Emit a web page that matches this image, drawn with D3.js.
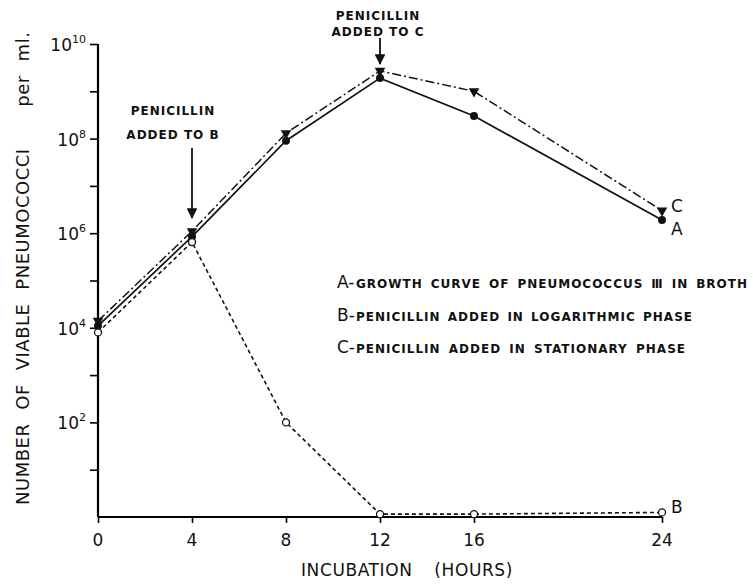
<!DOCTYPE html>
<html>
<head>
<meta charset="utf-8">
<script src="https://cdn.jsdelivr.net/npm/d3@7"></script>
<style>
  body { margin: 0; background: #fff; }
  text { font-family: "DejaVu Sans", sans-serif; fill: #111; }
</style>
</head>
<body>
<script>
var width = 753,
    height = 584;

// hours of incubation
var hours = [0, 4, 8, 12, 16, 24];
// viable pneumococci per ml
var curveA = [1.1e4, 8.5e5, 9e7, 1.9e9, 3e8, 1.9e6];
var curveB = [8e3, 6.5e5, 1e2, 1.15, 1.15, 1.25];
var curveC = [1.4e4, 1.1e6, 1.3e8, 2.7e9, 1e9, 3e6];
var xTicks = [0, 4, 8, 12, 16, 24];
var yMajor = [2, 4, 6, 8, 10];
var yMinor = [1, 3, 5, 7, 9];
var legendLines = [
  ["A", "GROWTH CURVE OF PNEUMOCOCCUS \u2162 IN BROTH", 411],
  ["B", "PENICILLIN ADDED IN LOGARITHMIC PHASE", 356],
  ["C", "PENICILLIN ADDED IN STATIONARY PHASE", 349]
];

var x = d3.scaleLinear().domain([0, 24]).range([98, 662]);
var y = d3.scaleLog().domain([1, 1e10]).range([517, 44]);

var svg = d3.select("body").append("svg")
    .attr("width", width)
    .attr("height", height);

// stretch the gaps between words so a label spans a given width
function fitWords(sel, target) {
  var node = sel.node();
  var n = (node.textContent.match(/ /g) || []).length;
  var w = node.getComputedTextLength();
  if (n > 0) sel.attr("word-spacing", ((target - w) / n) + "px");
}

// axes
var xAxis = d3.axisBottom(x).tickValues(xTicks).tickSize(6).tickFormat("");
svg.append("g")
    .attr("transform", "translate(0," + y(1) + ")")
    .call(xAxis)
    .call(function(g) {
      g.select(".domain").attr("stroke-width", 2.2).attr("d", "M" + x(0) + ",0H" + x(24));
      g.selectAll(".tick line").attr("stroke-width", 1.6);
    });

svg.append("g")
    .attr("transform", "translate(" + x(0) + ",0)")
    .call(d3.axisLeft(y).tickValues(yMajor.concat(yMinor).map(function(p) { return Math.pow(10, p); }))
      .tickSize(8).tickFormat(""))
    .call(function(g) {
      g.select(".domain").attr("stroke-width", 2.2).attr("d", "M0," + y(1) + "V" + y(1e10));
      g.selectAll(".tick line").attr("stroke-width", 1.6);
    });

// x tick labels
svg.selectAll(".xlab")
    .data(xTicks)
    .enter().append("text")
    .attr("x", function(d) { return x(d); })
    .attr("y", 546)
    .attr("text-anchor", "middle")
    .style("font-size", "17px")
    .text(function(d) { return d; });

// y tick labels as 10 with superscript
var ylab = svg.selectAll(".ylab")
    .data(yMajor)
    .enter().append("text")
    .attr("x", 86)
    .attr("y", function(d) { return y(Math.pow(10, d)) + 7; })
    .attr("text-anchor", "end")
    .style("font-size", "17px");
ylab.append("tspan").text("10");
ylab.append("tspan")
    .attr("dy", -8)
    .style("font-size", "11px")
    .text(function(d) { return d; });

// axis titles
var xt = svg.append("text")
    .attr("x", 301)
    .attr("y", 576)
    .style("font-size", "17px")
    .attr("letter-spacing", "0.6px")
    .text("INCUBATION (HOURS)");
fitWords(xt, 212);

var yt = svg.append("text")
    .attr("transform", "translate(29,505) rotate(-90)")
    .style("font-size", "18px")
    .attr("letter-spacing", "0.5px")
    .text("NUMBER OF VIABLE PNEUMOCOCCI \u00a0\u00a0per ml.");
fitWords(yt, 458);

// curves
var line = d3.line()
    .x(function(d) { return x(d[0]); })
    .y(function(d) { return y(d[1]); });

function pairs(vals) {
  return hours.map(function(h, i) { return [h, vals[i]]; });
}

svg.append("path")
    .datum(pairs(curveB))
    .attr("d", line)
    .attr("fill", "none")
    .attr("stroke", "#111")
    .attr("stroke-width", 1.6)
    .attr("stroke-dasharray", "4,3");

svg.append("path")
    .datum(pairs(curveC))
    .attr("d", line)
    .attr("fill", "none")
    .attr("stroke", "#111")
    .attr("stroke-width", 1.5)
    .attr("stroke-dasharray", "9,3,2,3");

svg.append("path")
    .datum(pairs(curveA))
    .attr("d", line)
    .attr("fill", "none")
    .attr("stroke", "#111")
    .attr("stroke-width", 1.7);

// markers
svg.selectAll(".ptA")
    .data(pairs(curveA))
    .enter().append("circle")
    .attr("cx", function(d) { return x(d[0]); })
    .attr("cy", function(d) { return y(d[1]); })
    .attr("r", 4)
    .attr("fill", "#111");

var tri = d3.symbol().type(d3.symbolTriangle).size(48);
svg.selectAll(".ptC")
    .data(pairs(curveC))
    .enter().append("path")
    .attr("d", tri)
    .attr("transform", function(d) { return "translate(" + x(d[0]) + "," + y(d[1]) + ") rotate(180)"; })
    .attr("fill", "#111");

svg.selectAll(".ptB")
    .data(pairs(curveB))
    .enter().append("circle")
    .attr("cx", function(d) { return x(d[0]); })
    .attr("cy", function(d) { return y(d[1]); })
    .attr("r", 3.5)
    .attr("fill", "#fff")
    .attr("stroke", "#111")
    .attr("stroke-width", 1.3);

// curve end labels
var endLabels = [["C", curveC, 1], ["A", curveA, 15], ["B", curveB, 1]];
svg.selectAll(".endlab")
    .data(endLabels)
    .enter().append("text")
    .attr("x", 671)
    .attr("y", function(d) { return y(d[1][5]) + d[2]; })
    .style("font-size", "17px")
    .text(function(d) { return d[0]; });

// penicillin annotations
var defs = svg.append("defs");
defs.append("marker")
    .attr("id", "head")
    .attr("viewBox", "0 0 10 10")
    .attr("refX", 9).attr("refY", 5)
    .attr("markerWidth", 6).attr("markerHeight", 6)
    .attr("orient", "auto")
    .append("path")
    .attr("d", "M0,0L10,5L0,10z")
    .attr("fill", "#111");

function note(hr, cx, lines, textY, gap, y1, y2) {
  var t = svg.append("text")
      .attr("text-anchor", "middle")
      .style("font-size", "12px")
      .style("font-weight", "bold")
      .attr("letter-spacing", "1px");
  lines.forEach(function(s, i) {
    t.append("tspan").attr("x", cx).attr("y", textY + i * gap).text(s);
  });
  svg.append("line")
      .attr("x1", x(hr)).attr("x2", x(hr))
      .attr("y1", y1).attr("y2", y2)
      .attr("stroke", "#111")
      .attr("stroke-width", 1.8)
      .attr("marker-end", "url(#head)");
}
note(4, 173, ["PENICILLIN", "ADDED TO B"], 115, 24, 148, 218);
note(12, 378, ["PENICILLIN", "ADDED TO C"], 20, 16, 38, 64);

// legend
legendLines.forEach(function(l, i) {
  svg.append("text")
      .attr("x", 337)
      .attr("y", 288 + i * 32.5)
      .style("font-size", "17px")
      .text(l[0] + "-");
  var t = svg.append("text")
      .attr("x", 356)
      .attr("y", 288 + i * 32.5)
      .style("font-size", "12px")
      .style("font-weight", "bold")
      .attr("letter-spacing", "1px")
      .text(l[1]);
  fitWords(t, l[2] - 19);
});
</script>
</body>
</html>
